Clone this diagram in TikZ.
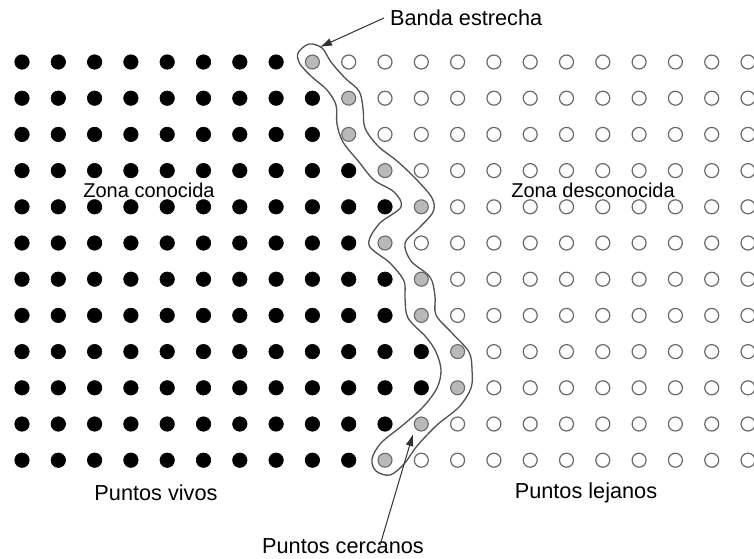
\documentclass[tikz,border=0pt]{standalone}
\usepackage{fontspec}
\setmainfont{Liberation Sans}
\usetikzlibrary{arrows.meta}
\definecolor{ringgray}{RGB}{105,105,105}
\definecolor{neargray}{RGB}{185,185,185}
\definecolor{bandline}{RGB}{80,80,80}
\definecolor{arrowline}{RGB}{50,50,50}
\begin{document}
\begin{tikzpicture}[x=1pt,y=-1pt,
  vivo/.style={circle,fill=black,draw=black,line width=0.6pt,minimum size=14.5pt,inner sep=0pt},
  cerca/.style={circle,fill=neargray,draw=ringgray,line width=1.1pt,minimum size=14pt,inner sep=0pt},
  lejos/.style={circle,fill=white,draw=ringgray,line width=1.2pt,minimum size=14pt,inner sep=0pt},
  banda/.style={draw=bandline,line width=1.3pt,line join=round},
  etiqueta/.style={font=\fontsize{21.7}{25}\selectfont,inner sep=0pt},
  zona/.style={font=\fontsize{20}{23}\selectfont,inner sep=0pt},
  flecha/.style={draw=arrowline,line width=1pt,-{Latex[length=12pt,width=8pt]}}]
\fill[white] (0,0) rectangle (754,558);
\useasboundingbox (0,0) rectangle (754,558);
% narrow band outline
\draw[banda] plot[smooth cycle,tension=0.55] coordinates {
  (309,44) (322,48) (331,62) (345,78) (359,91) (363,108) (365,128) (378,146)
  (397,161) (416,179) (432,198) (433,212) (419,228) (405,243) (411,261)
  (430,277) (435,296) (436,315) (452,333) (469,352) (472,370) (471,388)
  (459,407) (437,425) (417,446) (404,464) (390,475) (376,471) (372,459)
  (381,443) (403,425) (423,407) (437,388) (441,370) (436,352) (426,337)
  (408,318) (405,298) (404,281) (390,263) (369,245) (379,224) (401,207)
  (394,192) (374,180) (359,162) (343,142) (337,124) (336,105) (327,90)
  (312,77) (300,64) (298,53)};
% grid of points
\foreach \r/\g in {0/8,1/9,2/9,3/10,4/11,5/10,6/11,7/11,8/12,9/12,10/11,11/10}{
  \foreach \c in {0,...,20}{
    \ifnum\c<\g\relax \def\st{vivo}\else\ifnum\c=\g\relax \def\st{cerca}\else\def\st{lejos}\fi\fi
    \node[\st] (p-\r-\c) at ({22+36.3*\c},{62+36.2*\r}) {};
  }
}
% labels
\node[zona] (conocida) at (149,190) {Zona conocida};
\node[zona] (desconocida) at (593,190) {Zona desconocida};
\node[etiqueta] (vivos) at (156,493) {Puntos vivos};
\node[etiqueta] (lejanos) at (586,493) {Puntos lejanos};
\node[etiqueta,anchor=west] (bandaest) at (390,18) {Banda estrecha};
\node[etiqueta] (cercanos) at (343,546) {Puntos cercanos};
% arrows
\coordinate (tipA) at (320,47);
\coordinate (tipB) at (413,434);
\draw[flecha] ([xshift=-6pt]bandaest.west) -- (tipA);
\draw[flecha] ([xshift=37pt,yshift=-7pt]cercanos.north) -- (tipB);
\end{tikzpicture}
\end{document}
